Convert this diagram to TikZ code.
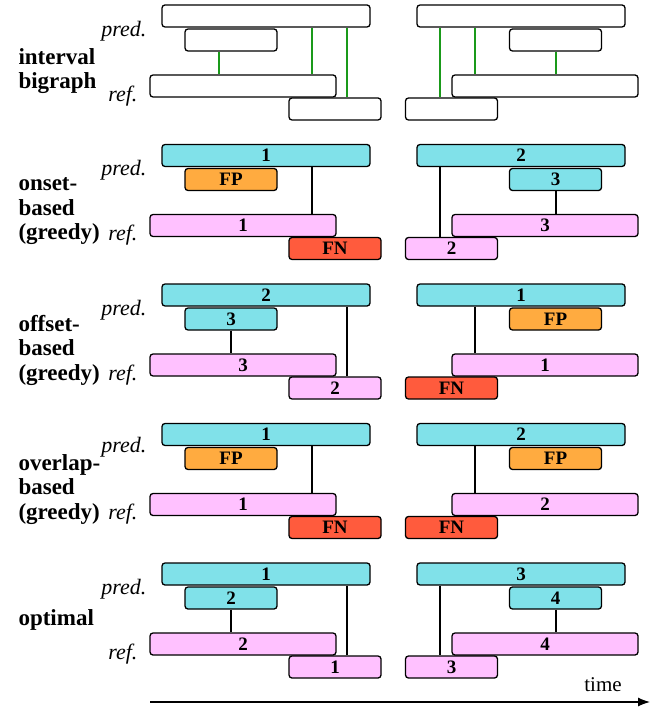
\documentclass[tikz,border=0pt]{standalone}
\usepackage{fontspec}
\setmainfont{Liberation Serif}
\usetikzlibrary{arrows.meta}
\tikzset{>={Latex[length=12pt,width=9pt]}}
\definecolor{predcol}{HTML}{80E1E9}
\definecolor{refcol}{HTML}{FFC1FF}
\definecolor{fpcol}{HTML}{FFAB40}
\definecolor{fncol}{HTML}{FF5B3D}
\definecolor{greenlink}{HTML}{1A9A1A}
\tikzset{
  ivl/.style={draw, line width=1.3pt, rounded corners=3pt, minimum height=22pt,
    inner sep=0pt, fill=white, font=\fontsize{19}{19}\selectfont\bfseries},
  wide/.style={ivl, minimum width=208pt},
  mid/.style={ivl, minimum width=186pt},
  short/.style={ivl, minimum width=92pt},
  rowlab/.style={anchor=west, align=left, font=\fontsize{23}{24.5}\selectfont\bfseries},
  side/.style={anchor=east, font=\fontsize{22}{22}\selectfont\itshape},
  link/.style={line width=1.2pt},
  glink/.style={line width=1.6pt, draw=greenlink}
}

\begin{document}
\begin{tikzpicture}[x=1pt,y=-1pt]
\useasboundingbox (0,0) rectangle (657,708);

% interval bigraph
\node[rowlab] (ibLab) at (15,71) {interval\\bigraph};
\node[side] (ibPred) at (150,31) {pred.};
\node[side] (ibRef) at (141,96) {ref.};
\node[wide] (ibLpa) at (266,16) {};
\node[short] (ibLpb) at (231,40) {};
\node[mid] (ibLra) at (243,86) {};
\node[short] (ibLrb) at (335,109) {};
\node[wide] (ibRpa) at (521,16) {};
\node[short] (ibRpb) at (555.5,40) {};
\node[mid] (ibRra) at (545,86) {};
\node[short] (ibRrb) at (451.5,109) {};
\draw[glink] (ibLpb.south -| 219,0) -- (ibLra.north -| 219,0);
\draw[glink] (ibLpa.south -| 312,0) -- (ibLra.north -| 312,0);
\draw[glink] (ibLpa.south -| 347,0) -- (ibLrb.north -| 347,0);
\draw[glink] (ibRpa.south -| 440,0) -- (ibRrb.north -| 440,0);
\draw[glink] (ibRpa.south -| 475,0) -- (ibRra.north -| 475,0);
\draw[glink] (ibRpb.south -| 556,0) -- (ibRra.north -| 556,0);

% onset-based
\begin{scope}[yshift=-139.5pt]
\node[rowlab] (onLab) at (15,72) {onset-\\based\\(greedy)};
\node[side] (onPred) at (150,31) {pred.};
\node[side] (onRef) at (141,96) {ref.};
\node[wide, fill=predcol] (onLpa) at (266,16) {1};
\node[short, fill=fpcol] (onLpb) at (231,40) {FP};
\node[mid, fill=refcol] (onLra) at (243,86) {1};
\node[short, fill=fncol] (onLrb) at (335,109) {FN};
\node[wide, fill=predcol] (onRpa) at (521,16) {2};
\node[short, fill=predcol] (onRpb) at (555.5,40) {3};
\node[mid, fill=refcol] (onRra) at (545,86) {3};
\node[short, fill=refcol] (onRrb) at (451.5,109) {2};
\draw[link] (onLpa.south -| 312,0) -- (onLra.north -| 312,0);
\draw[link] (onRpa.south -| 440,0) -- (onRrb.north -| 440,0);
\draw[link] (onRpb.south -| 556,0) -- (onRra.north -| 556,0);
\end{scope}

% offset-based
\begin{scope}[yshift=-279pt]
\node[rowlab] (ofLab) at (15,71) {offset-\\based\\(greedy)};
\node[side] (ofPred) at (150,31) {pred.};
\node[side] (ofRef) at (141,96) {ref.};
\node[wide, fill=predcol] (ofLpa) at (266,16) {2};
\node[short, fill=predcol] (ofLpb) at (231,40) {3};
\node[mid, fill=refcol] (ofLra) at (243,86) {3};
\node[short, fill=refcol] (ofLrb) at (335,109) {2};
\node[wide, fill=predcol] (ofRpa) at (521,16) {1};
\node[short, fill=fpcol] (ofRpb) at (555.5,40) {FP};
\node[mid, fill=refcol] (ofRra) at (545,86) {1};
\node[short, fill=fncol] (ofRrb) at (451.5,109) {FN};
\draw[link] (ofLpb.south -| 231,0) -- (ofLra.north -| 231,0);
\draw[link] (ofLpa.south -| 347,0) -- (ofLrb.north -| 347,0);
\draw[link] (ofRpa.south -| 475,0) -- (ofRra.north -| 475,0);
\end{scope}

% overlap-based
\begin{scope}[yshift=-418.5pt]
\node[rowlab] (ovLab) at (15,71) {overlap-\\based\\(greedy)};
\node[side] (ovPred) at (150,29) {pred.};
\node[side] (ovRef) at (141,96) {ref.};
\node[wide, fill=predcol] (ovLpa) at (266,16) {1};
\node[short, fill=fpcol] (ovLpb) at (231,40) {FP};
\node[mid, fill=refcol] (ovLra) at (243,86) {1};
\node[short, fill=fncol] (ovLrb) at (335,109) {FN};
\node[wide, fill=predcol] (ovRpa) at (521,16) {2};
\node[short, fill=fpcol] (ovRpb) at (555.5,40) {FP};
\node[mid, fill=refcol] (ovRra) at (545,86) {2};
\node[short, fill=fncol] (ovRrb) at (451.5,109) {FN};
\draw[link] (ovLpa.south -| 312,0) -- (ovLra.north -| 312,0);
\draw[link] (ovRpa.south -| 475,0) -- (ovRra.north -| 475,0);
\end{scope}

% optimal
\begin{scope}[yshift=-558pt]
\node[rowlab] (opLab) at (15,62) {optimal};
\node[side] (opPred) at (150,31) {pred.};
\node[side] (opRef) at (141,96) {ref.};
\node[wide, fill=predcol] (opLpa) at (266,16) {1};
\node[short, fill=predcol] (opLpb) at (231,40) {2};
\node[mid, fill=refcol] (opLra) at (243,86) {2};
\node[short, fill=refcol] (opLrb) at (335,109) {1};
\node[wide, fill=predcol] (opRpa) at (521,16) {3};
\node[short, fill=predcol] (opRpb) at (555.5,40) {4};
\node[mid, fill=refcol] (opRra) at (545,86) {4};
\node[short, fill=refcol] (opRrb) at (451.5,109) {3};
\draw[link] (opLpb.south -| 231,0) -- (opLra.north -| 231,0);
\draw[link] (opLpa.south -| 347,0) -- (opLrb.north -| 347,0);
\draw[link] (opRpa.south -| 440,0) -- (opRrb.north -| 440,0);
\draw[link] (opRpb.south -| 556,0) -- (opRra.north -| 556,0);
\end{scope}

% time axis
\coordinate (tStart) at (150,702);
\coordinate (tEnd) at (650,702);
\draw[->, line width=1.2pt] (tStart) -- (tEnd);
\node[font=\fontsize{21}{21}\selectfont] (timeLab) at (603,685) {time};
\end{tikzpicture}
\end{document}
